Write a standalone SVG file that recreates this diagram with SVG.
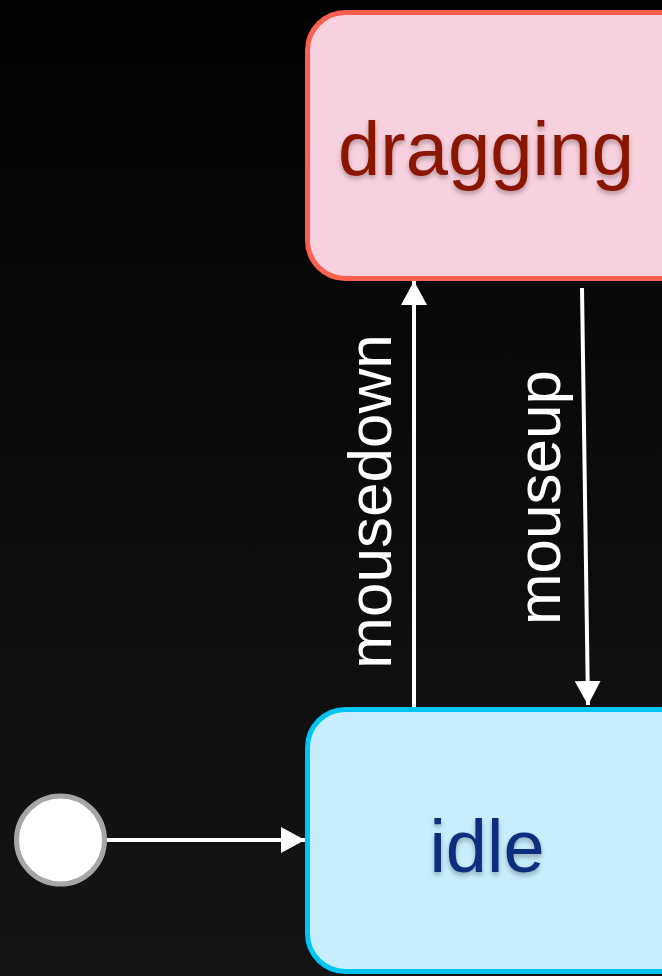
<svg xmlns="http://www.w3.org/2000/svg" width="662" height="976" viewBox="0 0 662 976">
<defs>
<linearGradient id="bg" x1="0" y1="0" x2="0" y2="1">
<stop offset="0" stop-color="#020202"/>
<stop offset="1" stop-color="#151515"/>
</linearGradient>
<filter id="ts" x="-20%" y="-30%" width="140%" height="160%">
<feDropShadow dx="0" dy="3" stdDeviation="2.5" flood-color="#000" flood-opacity="0.3"/>
</filter>
<marker id="ah" markerWidth="24" markerHeight="26" refX="24" refY="13" orient="auto" markerUnits="userSpaceOnUse">
<path d="M0,0 L24,13 L0,26 Z" fill="#fff"/>
</marker>
</defs>
<style>
.lbl{font-family:"Liberation Sans",Arial,sans-serif;}
.edge{stroke:#fff;stroke-width:4;fill:none;}
.elbl{font-family:"Liberation Sans",Arial,sans-serif;font-size:62px;fill:#fff;}
</style>
<rect width="662" height="976" fill="url(#bg)"/>
<g id="connectors">
<line class="edge" x1="106" y1="840" x2="305" y2="840" marker-end="url(#ah)"/>
<line class="edge" x1="414" y1="707" x2="414" y2="281" marker-end="url(#ah)"/>
<line class="edge" x1="582" y1="288" x2="588" y2="705" marker-end="url(#ah)"/>
<text class="elbl" transform="translate(391,501.5) rotate(-90)" text-anchor="middle">mousedown</text>
<text class="elbl" transform="translate(560,497.5) rotate(-90)" text-anchor="middle">mouseup</text>
</g>
<g id="start">
<circle cx="60.5" cy="840" r="44" fill="#fff" stroke="#a6a6a6" stroke-width="5"/>
</g>
<g id="dragging">
<rect x="307.5" y="12.5" width="400" height="266" rx="38" fill="#f8d1df" stroke="#fb5f4d" stroke-width="5"/>
<text class="lbl" x="486" y="175" text-anchor="middle" font-size="76" fill="#8a1404" filter="url(#ts)">dragging</text>
</g>
<g id="idle">
<rect x="307.5" y="709.5" width="400" height="262" rx="38" fill="#c8eefc" stroke="#00c4f4" stroke-width="5"/>
<text class="lbl" x="487" y="872" text-anchor="middle" font-size="74" fill="#0a2f7e" filter="url(#ts)">idle</text>
</g>
</svg>
